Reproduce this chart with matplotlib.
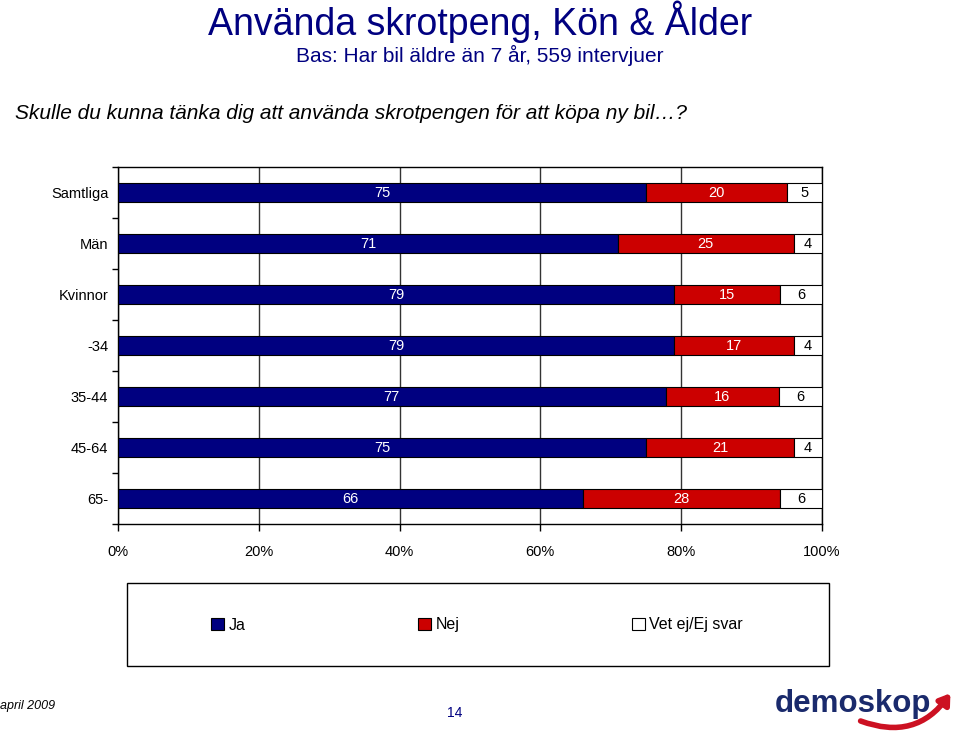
import numpy as np
import matplotlib.pyplot as plt
from matplotlib.patches import Rectangle, FancyArrowPatch

# data (percent)
groups = ["Samtliga", "Män", "Kvinnor", "-34", "35-44", "45-64", "65-"]
ja = [75, 71, 79, 79, 77, 75, 66]
nej = [20, 25, 15, 17, 16, 21, 28]
vet_ej = [5, 4, 6, 4, 6, 4, 6]
series_names = ["Ja", "Nej", "Vet ej/Ej svar"]
colors = ["#000080", "#CC0000", "#FFFFFF"]
label_colors = ["white", "white", "black"]

plt.rcParams['font.family'] = ['Liberation Sans', 'DejaVu Sans']

fig = plt.figure(figsize=(9.6, 7.41), dpi=100)
ax = fig.add_axes([0.1229, 0.2928, 0.7333, 0.4818])

vals = np.array([ja, nej, vet_ej], dtype=float)
pct = vals / vals.sum(axis=0) * 100  # 100% stacked
y = np.arange(len(groups))
left = np.zeros(len(groups))
for i in range(3):
    bars = ax.barh(y, pct[i], left=left, height=0.36, color=colors[i],
                   edgecolor="black", linewidth=0.8, zorder=3, label=series_names[i])
    for j, b in enumerate(bars):
        ax.text(left[j] + pct[i][j] / 2, y[j], str(int(vals[i][j])),
                ha="center", va="center", fontsize=10.5, color=label_colors[i], zorder=4)
    left += pct[i]

ax.set_xlim(0, 100)
ax.set_ylim(len(groups) - 0.5, -0.5)
ax.set_xticks([0, 20, 40, 60, 80, 100])
ax.set_xticklabels(["0%", "20%", "40%", "60%", "80%", "100%"], fontsize=10.5)
ax.tick_params(axis="x", direction="out", length=5, pad=10, width=1)
ax.set_yticks(y)
ax.set_yticklabels(groups, fontsize=10.5)
ax.tick_params(axis="y", which="major", length=0, pad=7)
ax.set_yticks(np.arange(-0.5, len(groups) + 0.5, 1), minor=True)
ax.tick_params(axis="y", which="minor", direction="out", length=4, width=1)
ax.grid(axis="x", color="#333333", linewidth=1, zorder=0)
for s in ax.spines.values():
    s.set_color("black")
    s.set_linewidth(1)

# titles
fig.text(0.5, 0.970, "Använda skrotpeng, Kön & Ålder", ha="center", va="center",
         fontsize=27, color="#000080")
fig.text(0.5, 0.925, "Bas: Har bil äldre än 7 år, 559 intervjuer", ha="center", va="center",
         fontsize=15, color="#000080")
fig.text(0.016, 0.847, "Skulle du kunna tänka dig att använda skrotpengen för att köpa ny bil\u2026?",
         ha="left", va="center", fontsize=15, style="italic")

# legend box
fig.patches.append(Rectangle((127 / 960, 1 - 666 / 741), (829 - 127) / 960, (666 - 583) / 741,
                             transform=fig.transFigure, facecolor="white",
                             edgecolor="black", linewidth=1))
handles, labels = ax.get_legend_handles_labels()
fig.legend(handles, labels, loc="center left", bbox_to_anchor=(211 / 960, 1 - 625 / 741), ncol=3,
           frameon=False, fontsize=11.5, handlelength=0.8, handleheight=0.8,
           handletextpad=0.3, columnspacing=10.8, borderpad=0, borderaxespad=0)

# footer
fig.text(0.0, 1 - 706 / 741, "april 2009", ha="left", va="center", fontsize=9, style="italic")
fig.text(455 / 960, 1 - 713 / 741, "14", ha="center", va="center", fontsize=10, color="#000080")
fig.text(853 / 960, 1 - 704 / 741, "demoskop", ha="center", va="center", fontsize=22.5,
         fontweight="bold", color="#1a2a6c")
fig.patches.append(FancyArrowPatch((858 / 960, 1 - 720 / 741), (952 / 960, 1 - 691 / 741),
                                   transform=fig.transFigure, connectionstyle="arc3,rad=0.4",
                                   arrowstyle="-|>,head_length=6,head_width=4",
                                   color="#CC1122", linewidth=4))

fig.savefig("out.png", dpi=100)
